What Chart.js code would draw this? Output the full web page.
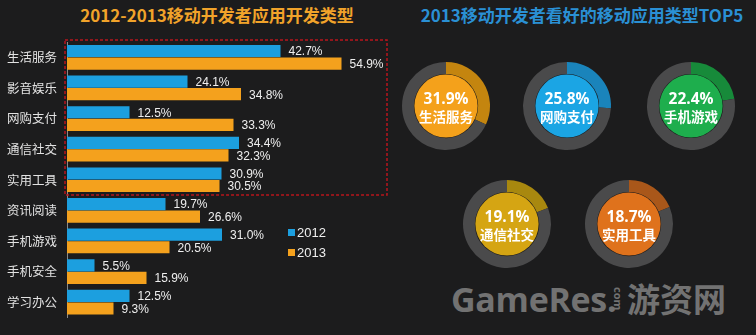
<!DOCTYPE html>
<html lang="zh">
<head>
<meta charset="UTF-8">
<title>2012-2013移动开发者应用开发类型</title>
<script src="https://cdn.jsdelivr.net/npm/chart.js@4.4.0/dist/chart.umd.min.js"></script>
<style>
/* --- layout --- */
html,body{margin:0;padding:0;background:#1c1c1d;}
#page{position:relative;width:756px;height:335px;overflow:hidden;background:#1c1c1d;font-family:'Noto Sans CJK SC',sans-serif}
.title{position:absolute;top:3px;font-weight:bold;font-size:17px;line-height:24px;white-space:nowrap;transform:translateX(-50%)}
#barTitle{left:217px;color:#f1a32a}
#pieTitle{left:582px;color:#2a90d4}
#barChart{position:absolute;left:0;top:0}
.donut{position:absolute}
.wm{position:absolute;color:#727272;font-weight:bold;white-space:nowrap}
#wm1{left:451px;top:282px;font-family:'Open Sans',sans-serif;font-size:34px;line-height:34px;letter-spacing:-0.3px}
#wm2{left:624px;top:287px;font-family:'Open Sans',sans-serif;font-size:11px;line-height:11px;transform:rotate(90deg);transform-origin:left top}
#wm3{left:627px;top:281px;font-family:'Noto Sans CJK SC',sans-serif;font-size:33px;line-height:34px}
</style>
</head>
<body>
<div id="page">
  <div id="barTitle" class="title">2012-2013移动开发者应用开发类型</div>
  <div id="pieTitle" class="title">2013移动开发者看好的移动应用类型TOP5</div>
  <canvas id="barChart" width="395" height="335"></canvas>
  <div id="donuts"></div>
  <div id="wm1" class="wm">GameRes.</div>
  <div id="wm2" class="wm">com</div>
  <div id="wm3" class="wm">游资网</div>
</div>

<script>
/* ---------- data ---------- */
const categories = ['生活服务','影音娱乐','网购支付','通信社交','实用工具','资讯阅读','手机游戏','手机安全','学习办公'];
const seriesNames = ['2012','2013'];
const values2012 = [42.7, 24.1, 12.5, 34.4, 30.9, 19.7, 31.0, 5.5, 12.5];
const values2013 = [54.9, 34.8, 33.3, 32.3, 30.5, 26.6, 20.5, 15.9, 9.3];
const boxedCategories = ['生活服务','影音娱乐','网购支付','通信社交','实用工具'];

const top5Labels = ['生活服务','网购支付','手机游戏','通信社交','实用工具'];
const top5Values = [31.9, 25.8, 22.4, 19.1, 18.7];

/* ---------- styles ---------- */
const barColors = ['#1c9fdf', '#f4a11d'];
const diskColors = ['#f4a11b', '#1ba5e4', '#1eae4d', '#d5a513', '#df721c'];
const ringColors = ['#c4850f', '#1a84bb', '#178a3a', '#a8880f', '#a9571a'];
const ringRest = '#4a4a4b';
const donutCenters = [[446,106],[567,106],[691,106],[507,224],[629,224]];

/* ---------- bar chart plugins ---------- */
const valueLabels = {
  id:'valueLabels',
  afterDatasetsDraw(chart){
    const ctx = chart.ctx;
    ctx.save();
    ctx.font = '12px "Liberation Sans", Arial, sans-serif';
    ctx.fillStyle = '#efefef';
    ctx.textBaseline = 'middle';
    chart.data.datasets.forEach((ds,i)=>{
      chart.getDatasetMeta(i).data.forEach((bar,j)=>{
        ctx.fillText(ds.data[j].toFixed(1)+'%', bar.x+8, bar.y+1);
      });
    });
    ctx.restore();
  }
};

const highlightBox = {
  id:'highlightBox',
  afterDraw(chart){
    const idx = boxedCategories.map(l=>categories.indexOf(l));
    const y = chart.scales.y, a = chart.chartArea;
    const step = y.getPixelForValue(1) - y.getPixelForValue(0);
    const top = y.getPixelForValue(Math.min(...idx)) - step/2 - 2;
    const bot = y.getPixelForValue(Math.max(...idx)) + step/2;
    const ctx = chart.ctx;
    ctx.save();
    ctx.strokeStyle = '#b8151c';
    ctx.lineWidth = 1.5;
    ctx.setLineDash([3,2]);
    ctx.strokeRect(a.left-2, top, a.right-a.left+2, bot-top);
    ctx.restore();
  }
};

const sideLegend = {
  id:'sideLegend',
  afterDraw(chart){
    const ctx = chart.ctx;
    ctx.save();
    ctx.font = '13px "Liberation Sans", Arial, sans-serif';
    ctx.textBaseline = 'middle';
    chart.data.datasets.forEach((ds,i)=>{
      const y = 233 + i*20;
      ctx.fillStyle = ds.backgroundColor;
      ctx.fillRect(288, y-4, 7, 7);
      ctx.fillStyle = '#eeeeee';
      ctx.fillText(ds.label, 297, y);
    });
    ctx.restore();
  }
};

new Chart(document.getElementById('barChart'), {
  type:'bar',
  data:{
    labels:categories,
    datasets:[
      {label:seriesNames[0], data:values2012, backgroundColor:barColors[0]},
      {label:seriesNames[1], data:values2013, backgroundColor:barColors[1]}
    ]
  },
  options:{
    indexAxis:'y',
    responsive:false,
    animation:false,
    layout:{padding:{top:42,bottom:12,right:8}},
    datasets:{bar:{barPercentage:0.97,categoryPercentage:0.82}},
    scales:{
      x:{display:false,min:0,max:64},
      y:{
        grid:{display:false,drawTicks:false},
        border:{display:true,color:'#8a8a8a',width:1},
        ticks:{color:'#e2e2e2',padding:10,font:{family:'"Noto Sans CJK SC", sans-serif',size:12.5}},
        afterFit(s){ s.width = 67; }
      }
    },
    plugins:{legend:{display:false},tooltip:{enabled:false}}
  },
  plugins:[valueLabels, highlightBox, sideLegend]
});

/* ---------- donuts ---------- */
const centerDisk = {
  id:'centerDisk',
  afterDraw(chart){
    const arc = chart.getDatasetMeta(0).data[0];
    const i = chart.options.plugins.centerDisk.index;
    const ctx = chart.ctx;
    ctx.save();
    ctx.beginPath();
    ctx.arc(arc.x, arc.y, arc.innerRadius-0.5, 0, Math.PI*2);
    ctx.fillStyle = diskColors[i];
    ctx.fill();
    ctx.fillStyle = '#ffffff';
    ctx.textAlign = 'center';
    ctx.textBaseline = 'middle';
    ctx.font = 'bold 15.5px "Open Sans", sans-serif';
    ctx.fillText(top5Values[i].toFixed(1)+'%', arc.x, arc.y-6.5);
    ctx.font = 'bold 13.5px "Noto Sans CJK SC", sans-serif';
    ctx.fillText(top5Labels[i], arc.x, arc.y+11);
    ctx.restore();
  }
};

const holder = document.getElementById('donuts');
top5Values.forEach((v,i)=>{
  const c = document.createElement('canvas');
  c.width = 100; c.height = 100;
  c.className = 'donut';
  c.style.left = (donutCenters[i][0]-50)+'px';
  c.style.top = (donutCenters[i][1]-50)+'px';
  holder.appendChild(c);
  new Chart(c, {
    type:'doughnut',
    data:{
      labels:[top5Labels[i], '其他'],
      datasets:[{data:[v, 100-v], backgroundColor:[ringColors[i], ringRest], borderWidth:0}]
    },
    options:{
      responsive:false,
      animation:false,
      cutout:'73%',
      layout:{padding:6},
      plugins:{legend:{display:false},tooltip:{enabled:false},centerDisk:{index:i}}
    },
    plugins:[centerDisk]
  });
});
</script>
</body>
</html>
